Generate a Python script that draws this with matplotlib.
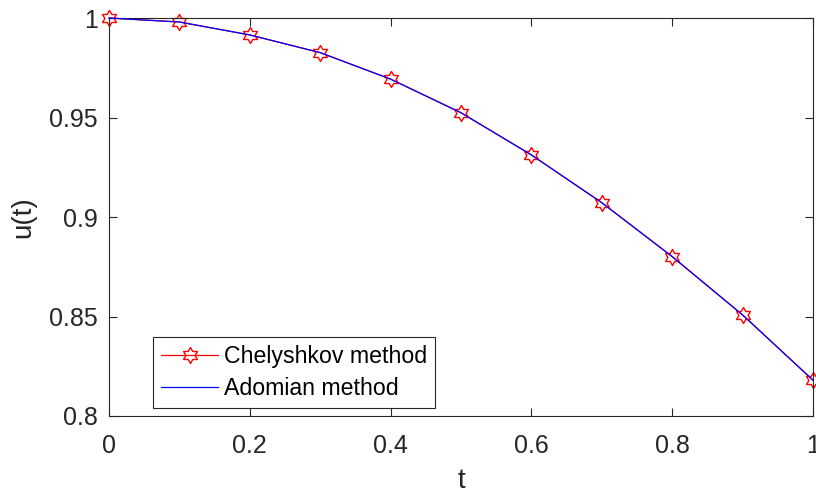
import numpy as np
import matplotlib
matplotlib.use("Agg")
import matplotlib.pyplot as plt

# -------- data ----------
t = [0.0, 0.1, 0.2, 0.3, 0.4, 0.5, 0.6, 0.7, 0.8, 0.9, 1.0]
u_chelyshkov = [1.0, 0.998, 0.9915, 0.9826, 0.9693, 0.9524, 0.9312, 0.9072, 0.8801, 0.8508, 0.8180]
u_adomian = [1.0, 0.998, 0.9915, 0.9826, 0.9693, 0.9524, 0.9312, 0.9072, 0.8801, 0.8508, 0.8180]

xticks = [0, 0.2, 0.4, 0.6, 0.8, 1]
xtick_labels = ["0", "0.2", "0.4", "0.6", "0.8", "1"]
yticks = [0.8, 0.85, 0.9, 0.95, 1]
ytick_labels = ["0.8", "0.85", "0.9", "0.95", "1"]

# six-pointed star marker (hexagram)
ang = np.pi / 2 + np.arange(12) * np.pi / 6
rad = np.where(np.arange(12) % 2 == 0, 1.0, 1 / np.sqrt(3))
hexagram = list(zip(rad * np.cos(ang), rad * np.sin(ang)))
hexagram.append(hexagram[0])

plt.rcParams['font.family'] = ['Liberation Sans', 'DejaVu Sans']
dark = '#262626'

fig = plt.figure(figsize=(8.16, 4.95), dpi=100)
ax = fig.add_axes([0.1336, 0.1596, 0.8627, 0.804])

ax.plot(t, u_chelyshkov, color='red', lw=0.9, marker=hexagram, markersize=11.5,
        markerfacecolor='none', markeredgecolor='red', markeredgewidth=1.0,
        label='Chelyshkov method', clip_on=False, zorder=2)
ax.plot(t, u_adomian, color='blue', lw=0.9, label='Adomian method',
        clip_on=False, zorder=3)

ax.set_xlim(0, 1)
ax.set_ylim(0.8, 1)
ax.set_xticks(xticks)
ax.set_xticklabels(xtick_labels)
ax.set_yticks(yticks)
ax.set_yticklabels(ytick_labels)
ax.tick_params(direction='in', length=6, width=0.8, colors=dark,
               labelsize=18, top=True, right=True, pad=8)
ax.tick_params(axis='x', labeltop=False, pad=13)
for sp in ax.spines.values():
    sp.set_color(dark)
    sp.set_linewidth(0.8)

ax.set_xlabel('t', fontsize=20, color=dark, labelpad=7)
ax.set_ylabel('u(t)', fontsize=20, color=dark, labelpad=9)

leg = ax.legend(loc='lower left', bbox_to_anchor=(0.0625, 0.02), fontsize=16.7,
                handlelength=2.45, handletextpad=0.25, borderpad=0.35,
                labelspacing=0.38, fancybox=False, framealpha=1,
                edgecolor=dark, borderaxespad=0)
leg.get_frame().set_linewidth(0.8)
for txt in leg.get_texts():
    txt.set_color('black')

fig.savefig('out.png', dpi=100)
